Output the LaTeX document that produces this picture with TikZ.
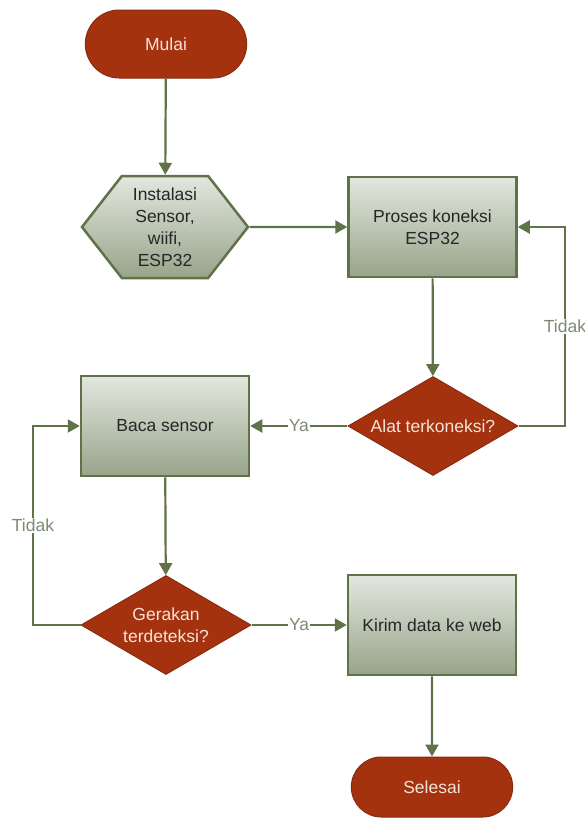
\documentclass[tikz,border=0pt]{standalone}
\usepackage{fontspec}
\setmainfont{Liberation Sans}
\usetikzlibrary{shapes.geometric,shapes.misc,shapes.symbols,arrows.meta}

\definecolor{rust}{HTML}{A5320E}
\definecolor{rustline}{HTML}{8A2B10}
\definecolor{cream}{HTML}{F3E4D8}
\definecolor{olive}{HTML}{5F7248}
\definecolor{sage}{HTML}{7E8B72}
\definecolor{boxtop}{HTML}{E3E7DF}
\definecolor{boxmid}{HTML}{CDD3C6}
\definecolor{boxbot}{HTML}{97A48A}

\tikzset{
  terminal/.style={rounded rectangle, draw=rustline, fill=rust, line width=1pt,
    text=cream, minimum width=168pt, minimum height=68pt},
  prosesbox/.style={rectangle, draw=olive, line width=2.5pt, top color=boxtop,
    middle color=boxmid, bottom color=boxbot, text=black!85, align=center,
    minimum width=168pt, minimum height=100pt},
  hexa/.style={signal, signal to=west and east, signal pointer angle=104,
    draw=olive, line width=2.5pt, top color=boxtop, middle color=boxmid,
    bottom color=boxbot, text=black!85, align=center, inner sep=0pt,
    minimum width=166pt, minimum height=102pt},
  decision/.style={diamond, draw=rustline, fill=rust, line width=1pt, text=cream,
    align=center, inner sep=0pt, aspect=1.7, minimum width=170pt, minimum height=99pt},
  flow/.style={draw=olive, line width=2.2pt, -{Triangle[length=12pt,width=13pt]}},
  lbl/.style={fill=white, text=sage, inner sep=1pt}
}

\begin{document}
\begin{tikzpicture}[x=1pt, y=-1pt, font=\fontsize{17.5}{22}\selectfont]
    \useasboundingbox (0,0) rectangle (585,820);

    % Draw the start and end terminals
    \node[terminal] (mulai) at (166,44) {Mulai};
    \node[terminal, minimum height=60pt] (selesai) at (432,787) {Selesai};

    % Draw the preparation step and the process boxes
    \node[hexa] (instal) at (165,227) {Instalasi\\Sensor,\\wiifi,\\ESP32};
    \node[prosesbox] (koneksi) at (432.5,227) {Proses koneksi\\ESP32};
    \node[prosesbox] (baca) at (165,426) {Baca sensor};
    \node[prosesbox] (kirim) at (432,625) {Kirim data ke web};

    % Draw the two decisions
    \node[decision] (alat) at (433,426) {Alat terkoneksi?};
    \node[decision] (gerak) at (166,625) {Gerakan\\terdeteksi?};

    % Points where the two loops turn
    \coordinate (kanan) at (565,0);
    \coordinate (kiri) at (33,0);

    % Draw the main flow
    \draw[flow] (mulai) -- (instal);
    \draw[flow] (instal) -- (koneksi);
    \draw[flow] (koneksi) -- (alat);
    \draw[flow] (alat) -- node[lbl] {Ya} (baca);
    \draw[flow] (baca) -- (gerak);
    \draw[flow] (gerak) -- node[lbl] {Ya} (kirim);
    \draw[flow] (kirim) -- (selesai);

    % Draw the loops back, labeled Tidak
    \draw[flow] (alat.east) -- (alat.east -| kanan)
        -- node[lbl] {Tidak} (koneksi.east -| kanan) -- (koneksi.east);
    \draw[flow] (gerak.west) -- (gerak.west -| kiri)
        -- node[lbl] {Tidak} (baca.west -| kiri) -- (baca.west);
\end{tikzpicture}
\end{document}
